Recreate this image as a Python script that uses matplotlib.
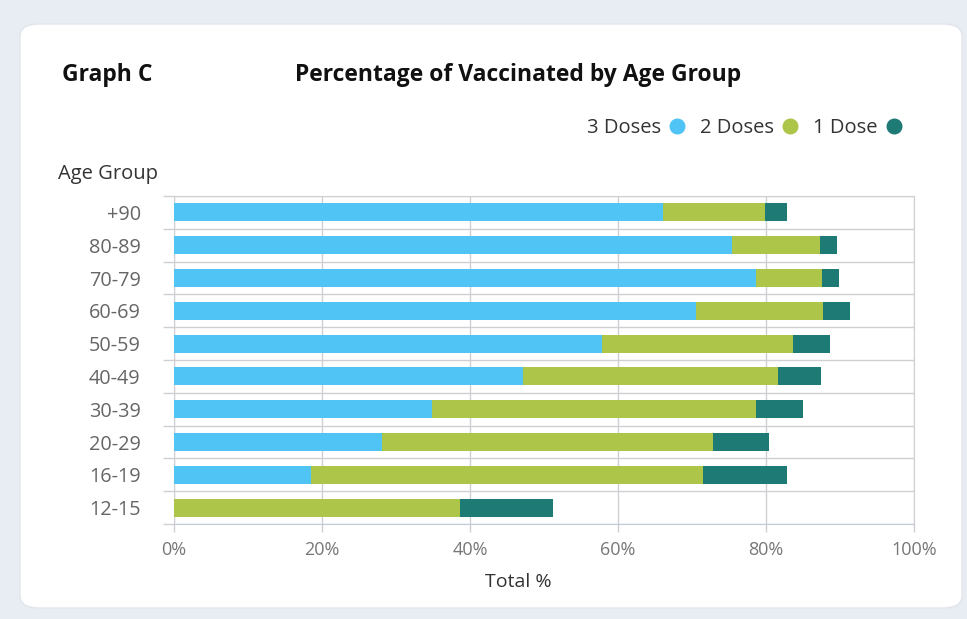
import matplotlib.pyplot as plt
from matplotlib.patches import FancyBboxPatch
from matplotlib.lines import Line2D
import numpy as np

plt.rcParams["font.family"] = ["Open Sans", "DejaVu Sans"]

# data (percent of age group)
age_groups = ["+90", "80-89", "70-79", "60-69", "50-59", "40-49", "30-39", "20-29", "16-19", "12-15"]
three_doses = [66.1, 75.4, 78.6, 70.5, 57.9, 47.2, 34.9, 28.1, 18.5, 0.0]
two_doses = [13.7, 11.9, 8.9, 17.2, 25.8, 34.4, 43.7, 44.7, 53.0, 38.6]
one_dose = [3.1, 2.3, 2.3, 3.6, 4.9, 5.8, 6.4, 7.6, 11.4, 12.6]
x_ticks = [0, 20, 40, 60, 80, 100]

C_BLUE = "#4FC4F5"
C_GREEN = "#ADC549"
C_TEAL = "#1E7A74"
C_GRID = "#cfcfd4"

W, H = 967, 619
fig = plt.figure(figsize=(W / 100, H / 100), dpi=100)
fig.patch.set_facecolor("#e8ecf3")

# white card behind the chart
card = FancyBboxPatch((20 / W, 11 / H), 942 / W, 584 / H,
                      boxstyle="round,pad=0,rounding_size=0.02",
                      transform=fig.transFigure, facecolor="white",
                      edgecolor="#e2e5ec", linewidth=1.0, zorder=-5)
fig.patches.append(card)

ax = fig.add_axes([174 / W, 95 / H, 740 / W, 328 / H])
ax.set_facecolor("none")

y = np.arange(len(age_groups))[::-1]
b3 = np.array(three_doses)
b2 = np.array(two_doses)
b1 = np.array(one_dose)
h = 0.55
ax.barh(y, b3, height=h, color=C_BLUE, zorder=3)
ax.barh(y, b2, left=b3, height=h, color=C_GREEN, zorder=3)
ax.barh(y, b1, left=b3 + b2, height=h, color=C_TEAL, zorder=3)

ax.set_xlim(0, 100)
ax.set_ylim(-0.5, len(age_groups) - 0.5)

ax.set_xticks(x_ticks)
ax.set_xticklabels([f"{t}%" for t in x_ticks])
ax.set_yticks(y)
ax.set_yticklabels(age_groups)
ax.set_yticks(np.arange(-0.5, len(age_groups), 1.0), minor=True)

ax.tick_params(axis="y", which="major", length=0, pad=24, labelsize=14.3, labelcolor="#666666")
ax.tick_params(axis="y", which="minor", length=8, color=C_GRID, width=1)
ax.tick_params(axis="x", which="major", length=6, color=C_GRID, width=1, pad=6,
               labelsize=13, labelcolor="#777777")

ax.grid(True, axis="x", which="major", color=C_GRID, linewidth=1, zorder=0)
ax.grid(True, axis="y", which="minor", color=C_GRID, linewidth=1, zorder=0)
ax.grid(False, axis="y", which="major")

for side in ["top", "right", "left"]:
    ax.spines[side].set_color(C_GRID)
ax.spines["bottom"].set_color("#c5cadb")

fig.text(518 / W, 1 - 582 / H, "Total %", fontsize=14, color="#333333", ha="center", va="center")

fig.text(62 / W, 1 - 75 / H, "Graph C", fontsize=16.5, fontweight="bold", color="#111111", va="center")
fig.text(518 / W, 1 - 75 / H, "Percentage of Vaccinated by Age Group", fontsize=16.5,
         fontweight="bold", color="#111111", va="center", ha="center")
fig.text(58 / W, 1 - 174 / H, "Age Group", fontsize=14.5, color="#333333", va="center")

handles = [Line2D([], [], linestyle="none", marker="o", markersize=10.5, color=c)
           for c in (C_BLUE, C_GREEN, C_TEAL)]
fig.legend(handles, ["3 Doses", "2 Doses", "1 Dose"], loc="center right",
           bbox_to_anchor=(920 / W, 1 - 128 / H), ncol=3, frameon=False, markerfirst=False,
           handletextpad=0.4, columnspacing=0.75, handlelength=0.8, fontsize=14.5,
           labelcolor="#333333")

fig.savefig("out.png", dpi=100, facecolor=fig.get_facecolor())
